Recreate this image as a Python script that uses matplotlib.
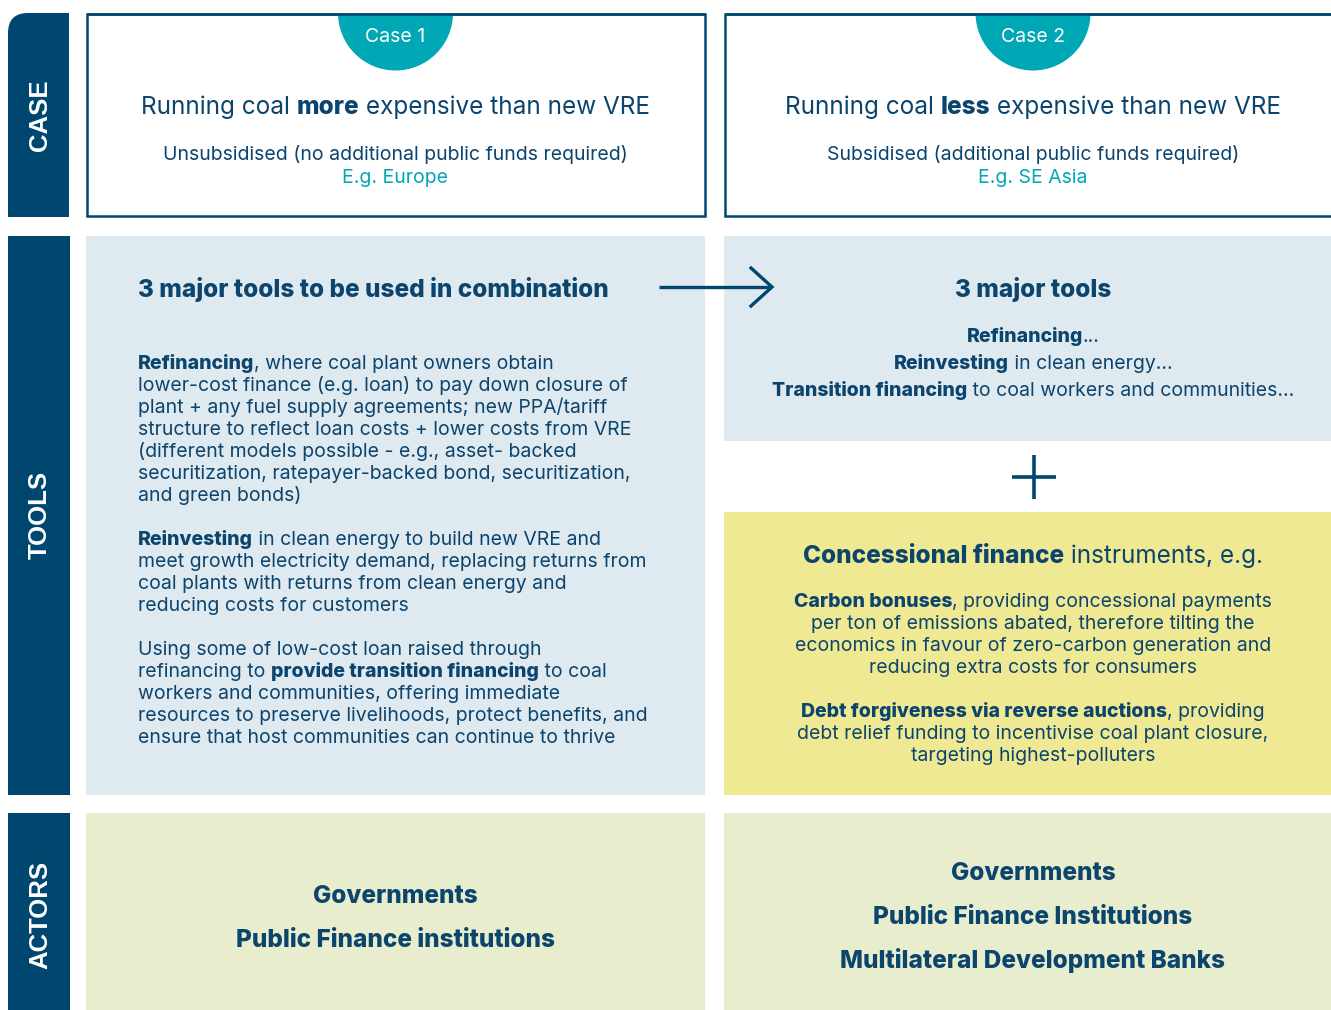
import matplotlib.pyplot as plt
from matplotlib.patches import Rectangle, Circle, FancyBboxPatch

plt.rcParams['font.family'] = ['Inter', 'DejaVu Sans']

NAVY = '#00476F'
TXT = '#0B446D'
TEAL = '#00A7B5'
BLUE_BG = '#DFE9F0'
YELLOW_BG = '#F0E994'
GREEN_BG = '#E8EDCD'
BOLD = 800

# ---- content ----
row_labels = ['CASE', 'TOOLS', 'ACTORS']
case_tags = ['Case 1', 'Case 2']
case_titles = [
    [('Running coal ', False), ('more', True), (' expensive than new VRE', False)],
    [('Running coal ', False), ('less', True), (' expensive than new VRE', False)],
]
case_subs = ['Unsubsidised (no additional public funds required)',
             'Subsidised (additional public funds required)']
case_examples = ['E.g. Europe', 'E.g. SE Asia']

left_title = '3 major tools to be used in combination'
left_lines = [
    [('Refinancing', True), (', where coal plant owners obtain', False)],
    [('lower-cost finance (e.g. loan) to pay down closure of', False)],
    [('plant + any fuel supply agreements; new PPA/tariff', False)],
    [('structure to reflect loan costs + lower costs from VRE', False)],
    [('(different models possible - e.g., asset- backed', False)],
    [('securitization, ratepayer-backed bond, securitization,', False)],
    [('and green bonds)', False)],
    None,
    [('Reinvesting', True), (' in clean energy to build new VRE and', False)],
    [('meet growth electricity demand, replacing returns from', False)],
    [('coal plants with returns from clean energy and', False)],
    [('reducing costs for customers', False)],
    None,
    [('Using some of low-cost loan raised through', False)],
    [('refinancing to ', False), ('provide transition financing', True), (' to coal', False)],
    [('workers and communities, offering immediate', False)],
    [('resources to preserve livelihoods, protect benefits, and', False)],
    [('ensure that host communities can continue to thrive', False)],
]

right_title = '3 major tools'
right_lines = [
    [('Refinancing', True), ('...', False)],
    [('Reinvesting', True), (' in clean energy...', False)],
    [('Transition financing', True), (' to coal workers and communities...', False)],
]

conc_title = [('Concessional finance', True), (' instruments, e.g.', False)]
conc_lines = [
    [('Carbon bonuses', True), (', providing concessional payments', False)],
    [('per ton of emissions abated, therefore tilting the', False)],
    [('economics in favour of zero-carbon generation and', False)],
    [('reducing extra costs for consumers', False)],
    None,
    [('Debt forgiveness via reverse auctions', True), (', providing', False)],
    [('debt relief funding to incentivise coal plant closure,', False)],
    [('targeting highest-polluters', False)],
]

actors_left = ['Governments', 'Public Finance institutions']
actors_right = ['Governments', 'Public Finance Institutions', 'Multilateral Development Banks']

# ---- canvas in pixel units ----
fig = plt.figure(figsize=(13.31, 10.10), dpi=100)
ax = fig.add_axes([0, 0, 1, 1])
ax.set_xlim(0, 1331)
ax.set_ylim(1010, 0)
ax.axis('off')
renderer = fig.canvas.get_renderer()

_bar = {}


def width(s, bold, size):
    w = BOLD if bold else 'normal'
    if (w, size) not in _bar:
        t = ax.text(0, 0, '||', fontsize=size, fontweight=w)
        _bar[(w, size)] = t.get_window_extent(renderer).width
        t.remove()
    t = ax.text(0, 0, '|' + s + '|', fontsize=size, fontweight=w)
    ww = t.get_window_extent(renderer).width
    t.remove()
    return ww - _bar[(w, size)]


def rich(x, yc, segs, size, ha='left', color=TXT):
    # yc = visual centre of the line (caps), in pixels
    base = yc + 0.36 * size * 100 / 72
    widths = [width(s, b, size) for s, b in segs]
    if ha == 'center':
        x = x - sum(widths) / 2
    for (s, b), w in zip(segs, widths):
        ax.text(x, base, s, fontsize=size, fontweight=BOLD if b else 'normal',
                color=color, va='baseline', ha='left')
        x += w


def block(x, y0, lines, step, size, ha='left'):
    y = y0
    for ln in lines:
        if ln is not None:
            rich(x, y, ln, size, ha)
        y += step


# ---- side labels ----
# CASE bar with rounded top-left corner
ax.add_patch(FancyBboxPatch((8, 13), 61, 204, boxstyle='round,pad=0,rounding_size=20',
                            fc=NAVY, ec='none'))
ax.add_patch(Rectangle((40, 13), 29, 204, fc=NAVY, ec='none'))
ax.add_patch(Rectangle((8, 100), 61, 117, fc=NAVY, ec='none'))
ax.add_patch(Rectangle((8, 236), 62, 559, fc=NAVY, ec='none'))
ax.add_patch(Rectangle((8, 813), 62, 200, fc=NAVY, ec='none'))
for lab, yc in zip(row_labels, [115, 515, 915]):
    ax.text(40, yc, lab, rotation=90, color='white', fontsize=18.5, fontweight='bold',
            family=['Liberation Sans', 'DejaVu Sans'], ha='center', va='center')

# ---- case boxes ----
case_x = [(87, 705), (725, 1340)]
case_cx = [395.5, 1033]
for i, (x0, x1) in enumerate(case_x):
    cx = case_cx[i]
    box = Rectangle((x0, 14), x1 - x0, 202, fc='white', ec=NAVY, lw=1.8, zorder=1)
    ax.add_patch(box)
    circ = Circle((cx, 13), 57.5, fc=TEAL, ec='none', zorder=2)
    ax.add_patch(circ)
    circ.set_clip_path(Rectangle((x0, 14), x1 - x0, 202, transform=ax.transData))
    ax.plot([x0, x1], [14, 14], color=NAVY, lw=1.8, zorder=3, solid_capstyle='butt')
    ax.text(cx, 35 + 0.36 * 14 * 100 / 72, case_tags[i], fontsize=14, color='white',
            ha='center', va='baseline', zorder=4)
    rich(cx, 105, case_titles[i], 17.5, ha='center')
    rich(cx, 153, [(case_subs[i], False)], 14, ha='center')
    rich(cx, 176, [(case_examples[i], False)], 14, ha='center', color=TEAL)

# ---- tools ----
ax.add_patch(Rectangle((86, 236), 619, 559, fc=BLUE_BG, ec='none'))
ax.add_patch(Rectangle((724, 236), 620, 205, fc=BLUE_BG, ec='none'))
ax.add_patch(Rectangle((724, 512), 620, 283, fc=YELLOW_BG, ec='none'))

rich(138, 288, [(left_title, True)], 17.5)
block(138, 362, left_lines, 22, 14)

rich(1033, 288, [(right_title, True)], 17.5, ha='center')
block(1033, 335, right_lines, 27, 14, ha='center')

# arrow
ax.plot([659, 771], [287, 287], color=NAVY, lw=2.4, solid_capstyle='butt')
ax.plot([751, 772, 751], [268, 287, 306], color=NAVY, lw=2.4, solid_joinstyle='miter')

# plus
ax.plot([1012, 1056], [477, 477], color=NAVY, lw=2.6, solid_capstyle='butt')
ax.plot([1034, 1034], [455, 499], color=NAVY, lw=2.6, solid_capstyle='butt')

rich(1033, 554, conc_title, 17.5, ha='center')
block(1033, 600, conc_lines, 22, 14, ha='center')

# ---- actors ----
ax.add_patch(Rectangle((86, 813), 619, 200, fc=GREEN_BG, ec='none'))
ax.add_patch(Rectangle((724, 813), 620, 200, fc=GREEN_BG, ec='none'))
for k, s in enumerate(actors_left):
    rich(395.5, 894 + 44 * k, [(s, True)], 17.5, ha='center')
for k, s in enumerate(actors_right):
    rich(1033, 871 + 44 * k, [(s, True)], 17.5, ha='center')

fig.savefig('out.png', dpi=100, facecolor='white')
